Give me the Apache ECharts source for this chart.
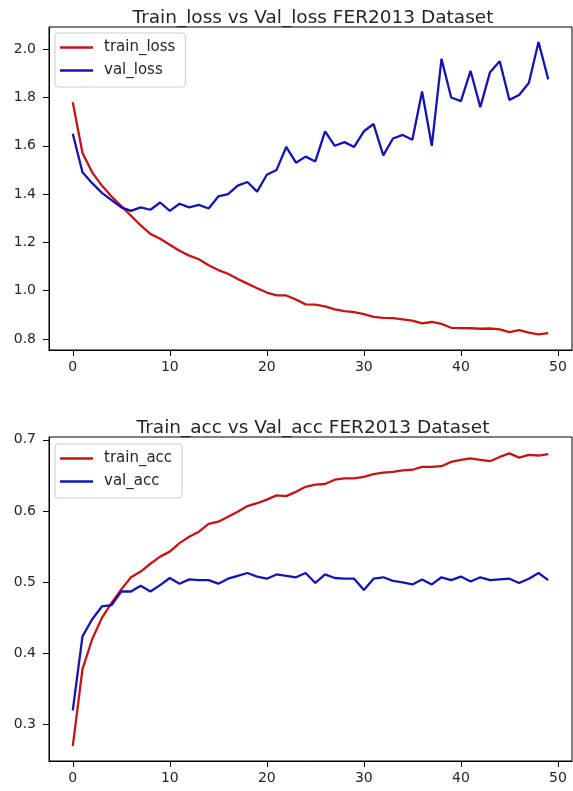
<!DOCTYPE html>
<html>
<head>
<meta charset="utf-8">
<script src="https://cdn.jsdelivr.net/npm/echarts@6/dist/echarts.min.js"></script>
<style>
  html, body { margin: 0; padding: 0; background: #fff; }
  #chart { width: 573px; height: 791px; }
</style>
</head>
<body>
<div id="chart"></div>
<script>
// epochs 0..49
const epochs = Array.from({ length: 50 }, (_, i) => i)

const trainLoss = [
  1.78, 1.57, 1.49, 1.435, 1.39, 1.35, 1.31, 1.27, 1.235, 1.215,
  1.19, 1.165, 1.145, 1.13, 1.105, 1.085, 1.07, 1.048, 1.029, 1.01,
  0.992, 0.98, 0.98, 0.963, 0.943, 0.942, 0.935, 0.922, 0.915, 0.911,
  0.903, 0.891, 0.887, 0.886, 0.881, 0.876, 0.864, 0.870, 0.862, 0.846,
  0.845, 0.844, 0.842, 0.843, 0.839, 0.828, 0.836, 0.826, 0.819, 0.824
]
const valLoss = [
  1.65, 1.49, 1.445, 1.405, 1.375, 1.345, 1.33, 1.345, 1.335, 1.365,
  1.33, 1.36, 1.345, 1.355, 1.34, 1.39, 1.40, 1.435, 1.45, 1.41,
  1.48, 1.50, 1.595, 1.53, 1.555, 1.535, 1.66, 1.60, 1.615, 1.595,
  1.66, 1.69, 1.56, 1.63, 1.645, 1.625, 1.825, 1.60, 1.96, 1.80,
  1.785, 1.91, 1.76, 1.905, 1.95, 1.79, 1.81, 1.86, 2.03, 1.875
]
const trainAcc = [
  0.27, 0.378, 0.42, 0.45, 0.471, 0.49, 0.507, 0.515, 0.526, 0.536,
  0.543, 0.555, 0.564, 0.571, 0.582, 0.585, 0.592, 0.599, 0.607, 0.611,
  0.616, 0.622, 0.621, 0.627, 0.634, 0.637, 0.638, 0.644, 0.646, 0.646,
  0.648, 0.652, 0.654, 0.655, 0.657, 0.658, 0.662, 0.662, 0.663, 0.669,
  0.672, 0.674, 0.672, 0.670, 0.676, 0.681, 0.675, 0.679, 0.678, 0.680
]
const valAcc = [
  0.32, 0.424, 0.448, 0.466, 0.468, 0.487, 0.487, 0.495, 0.487, 0.496,
  0.506, 0.498, 0.504, 0.503, 0.503, 0.498, 0.505, 0.509, 0.513, 0.508,
  0.505, 0.511, 0.509, 0.507, 0.513, 0.499, 0.511, 0.506, 0.505, 0.505,
  0.489, 0.505, 0.507, 0.502, 0.500, 0.497, 0.504, 0.497, 0.507, 0.503,
  0.508, 0.501, 0.507, 0.503, 0.504, 0.505, 0.499, 0.505, 0.513, 0.503
]

// tick labels
const xTicks = [0, 10, 20, 30, 40, 50]
const lossTicks = [0.8, 1.0, 1.2, 1.4, 1.6, 1.8, 2.0]
const accTicks = [0.3, 0.4, 0.5, 0.6, 0.7]

const RED = '#c41414'
const BLUE = '#1414b4'
const FONT = 'DejaVu Sans'
const TXT = '#262626'

const pairs = (ys) => epochs.map((x, i) => [x, ys[i]])

function xAxis (gridIndex) {
  return {
    type: 'value',
    gridIndex: gridIndex,
    min: -2.45,
    max: 51.45,
    splitLine: { show: false },
    axisLine: { show: true, onZero: false, lineStyle: { color: '#000', width: 1 } },
    axisTick: { show: true, length: 6, customValues: xTicks, lineStyle: { color: '#000' } },
    axisLabel: {
      customValues: xTicks,
      color: TXT, fontFamily: FONT, fontSize: 14, margin: 10,
      formatter: v => String(v)
    }
  }
}

function yAxis (gridIndex, min, max, ticks) {
  return {
    type: 'value',
    gridIndex: gridIndex,
    min: min,
    max: max,
    splitLine: { show: false },
    axisLine: { show: true, onZero: false, lineStyle: { color: '#000', width: 1 } },
    axisTick: { show: true, length: 6, customValues: ticks, lineStyle: { color: '#000' } },
    axisLabel: {
      customValues: ticks,
      color: TXT, fontFamily: FONT, fontSize: 14, margin: 13,
      formatter: v => v.toFixed(1)
    }
  }
}

function legend (names, top) {
  return {
    data: names,
    orient: 'vertical',
    left: 55,
    top: top,
    icon: 'rect',
    itemWidth: 33,
    itemHeight: 2.5,
    itemGap: 6,
    padding: [6, 10, 8, 5],
    borderColor: '#cccccc',
    borderWidth: 1,
    borderRadius: 3,
    backgroundColor: '#fff',
    textStyle: { color: TXT, fontFamily: FONT, fontSize: 15, lineHeight: 17, padding: [0, 0, 0, 6] }
  }
}

function line (name, data, color, idx) {
  return {
    name: name,
    type: 'line',
    xAxisIndex: idx,
    yAxisIndex: idx,
    data: pairs(data),
    showSymbol: false,
    symbol: 'none',
    lineStyle: { color: color, width: 2.3 },
    itemStyle: { color: color },
    z: 3
  }
}

const chartInstance = echarts.init(document.getElementById('chart'), null, { renderer: 'canvas' })
chartInstance.setOption({
  animation: false,
  backgroundColor: '#fff',
  title: [
    {
      text: 'Train_loss vs Val_loss FER2013 Dataset',
      left: 308, top: 4, textAlign: 'center',
      textStyle: { color: TXT, fontFamily: FONT, fontSize: 18.5, fontWeight: 'normal' }
    },
    {
      text: 'Train_acc vs Val_acc FER2013 Dataset',
      left: 308, top: 414, textAlign: 'center',
      textStyle: { color: TXT, fontFamily: FONT, fontSize: 18.5, fontWeight: 'normal' }
    }
  ],
  legend: [
    legend(['train_loss', 'val_loss'], 33),
    legend(['train_acc', 'val_acc'], 444)
  ],
  grid: [
    { left: 49, top: 27, width: 523, height: 323, show: true, borderColor: '#000', borderWidth: 1, backgroundColor: 'transparent' },
    { left: 49, top: 437, width: 523, height: 324, show: true, borderColor: '#000', borderWidth: 1, backgroundColor: 'transparent' }
  ],
  xAxis: [xAxis(0), xAxis(1)],
  yAxis: [
    yAxis(0, 0.754, 2.092, lossTicks),
    yAxis(1, 0.249, 0.704, accTicks)
  ],
  series: [
    line('train_loss', trainLoss, RED, 0),
    line('val_loss', valLoss, BLUE, 0),
    line('train_acc', trainAcc, RED, 1),
    line('val_acc', valAcc, BLUE, 1)
  ]
})
</script>
</body>
</html>
